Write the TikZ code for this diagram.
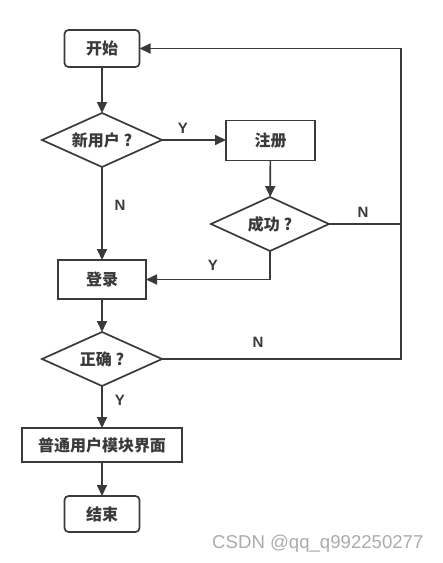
\documentclass[tikz,border=0pt]{standalone}
\usepackage{fontspec}
\setmainfont{Noto Sans CJK SC}
\newfontfamily\wmfont{Liberation Sans}
\usetikzlibrary{arrows.meta,shapes.geometric}
\definecolor{ink}{HTML}{3A3A3A}
\definecolor{wm}{HTML}{ABABAB}
\tikzset{
  every node/.style={font=\fontsize{16pt}{18pt}\selectfont\bfseries, text=ink},
  line/.style={draw=ink, line width=1.7pt},
  arr/.style={line, -{Triangle[length=11pt,width=10pt]}},
  rbox/.style={line, rectangle, rounded corners=4pt, inner sep=0pt, outer sep=0pt},
  sbox/.style={line, rectangle, inner sep=0pt, outer sep=0pt},
  dia/.style={line, diamond, aspect=2.2, inner sep=0pt, outer sep=0pt},
  lab/.style={font=\fontsize{15pt}{17pt}\selectfont\bfseries\wmfont, text=ink}
}
\begin{document}
\begin{tikzpicture}[x=1pt,y=-1pt]
\useasboundingbox (0,0) rectangle (443,563);
\node[rbox, minimum width=75pt, minimum height=37pt] (start) at (102,48.5) {开始};
\node[dia, minimum width=120pt, minimum height=54pt] (new) at (102,140) {新用户 ?};
\node[sbox, minimum width=89pt, minimum height=40pt] (reg) at (270.5,140.5) {注册};
\node[dia, minimum width=118pt, minimum height=54pt] (ok) at (270,224) {成功 ?};
\node[sbox, minimum width=88pt, minimum height=39pt] (login) at (102,279.5) {登录};
\node[dia, minimum width=120pt, minimum height=54pt] (right) at (102,359) {正确 ?};
\node[sbox, minimum width=160pt, minimum height=34pt] (main) at (102,445) {普通用户模块界面};
\node[rbox, minimum width=75pt, minimum height=36pt] (end) at (102,514) {结束};
\coordinate (rail) at (401,48.5);

\draw[arr] (start) -- (new);
\draw[arr] (new.east) -- (new.east -| reg.west);
\draw[arr] (reg) -- (ok);
\draw[line] (ok.east) -- (ok.east -| rail);
\draw[arr] (ok.south) |- (login.east);
\draw[arr] (new) -- (login);
\draw[arr] (login) -- (right);
\draw[arr] (right.east) -| (rail) -- (start.east);
\draw[arr] (right) -- (main);
\draw[arr] (main) -- (end);

\node[lab] (y1) at (183,128) {Y};
\node[lab] (n1) at (120,205) {N};
\node[lab] (n2) at (363,212) {N};
\node[lab] (y2) at (213,265) {Y};
\node[lab] (n3) at (258,342) {N};
\node[lab] (y3) at (120,400) {Y};

\node[font=\fontsize{18.6pt}{20pt}\selectfont\wmfont, text=wm, anchor=east] (wmark) at (427,544) {CSDN @qq\_q992250277};
\end{tikzpicture}
\end{document}
